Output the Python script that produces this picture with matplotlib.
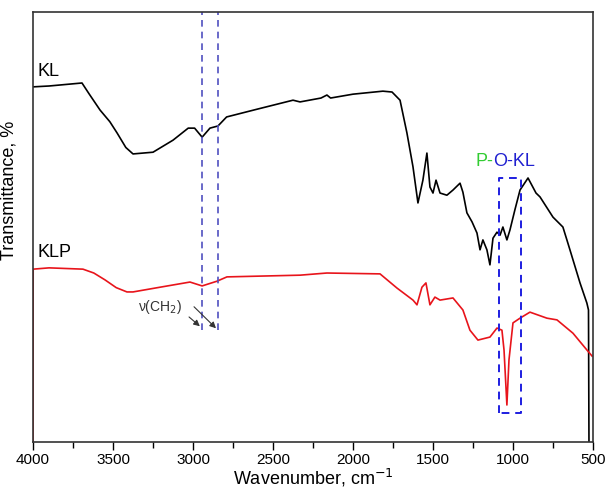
import matplotlib
matplotlib.use('Agg')
import matplotlib.pyplot as plt
from matplotlib.ticker import MultipleLocator

plt.rcParams['font.family'] = ['Liberation Sans', 'DejaVu Sans']

# KL spectrum (wavenumber, transmittance a.u.)
kl_wn = [4000, 3900, 3694, 3650, 3581, 3520, 3475, 3420, 3375, 3250, 3125, 3030, 2990, 2943, 2894,
         2844, 2790, 2600, 2375, 2331, 2200, 2163, 2140, 2000, 1813, 1756, 1706,
         1663, 1625, 1594, 1563, 1538, 1519, 1500, 1481, 1456, 1413, 1375, 1331,
         1313, 1288, 1256, 1225, 1206, 1188, 1163, 1144, 1125, 1100, 1081, 1063,
         1038, 1019, 988, 956, 906, 856, 831, 750, 688, 663, 644, 581, 538, 528, 525]
kl_t = [82.6, 82.8, 83.5, 81.0, 77.2, 74.5, 71.9, 68.5, 67.0, 67.4, 70.2, 73.0, 73.0, 70.9, 73.0,
        73.5, 75.6, 77.4, 79.5, 79.1, 80.0, 80.7, 80.0, 80.9, 81.6, 81.4, 79.5,
        71.9, 64.0, 55.6, 60.9, 67.2, 59.3, 57.9, 60.9, 57.9, 57.4, 58.6, 60.2,
        58.1, 53.3, 51.2, 48.6, 44.7, 47.0, 44.7, 41.2, 47.4, 48.8, 48.1, 50.0,
        47.0, 49.3, 54.0, 58.6, 61.4, 57.9, 57.0, 52.3, 50.0, 47.0, 44.7, 37.0, 32.3, 30.7, 0]

# KLP spectrum
klp_wn = [4000, 3999, 3900, 3688, 3620, 3550, 3480, 3413, 3375, 3206, 3019, 2943, 2850, 2788,
          2331, 2163, 1831, 1725, 1625, 1600, 1569, 1544, 1519, 1488, 1456, 1375,
          1313, 1269, 1219, 1144, 1100, 1069, 1056, 1038, 1025, 1000, 956, 894,
          788, 725, 625, 538, 506]
klp_t = [0, 40.2, 40.5, 40.2, 39.3, 37.7, 35.9, 34.9, 34.9, 36.0, 37.2, 36.3, 37.4, 38.4,
         38.8, 39.3, 39.1, 35.8, 33.0, 31.9, 36.0, 37.0, 31.9, 33.7, 33.0, 33.5,
         30.7, 26.0, 23.7, 24.4, 26.5, 26.0, 21.4, 8.6, 19.1, 27.7, 28.8, 30.2,
         28.8, 28.4, 25.3, 21.4, 20.0]

ch2_lines = [2943, 2844]
box_wn = [1088, 950]
box_t = [6.7, 61.4]

fig = plt.figure(figsize=(6.06, 4.88), dpi=100)
ax = fig.add_axes([0.0545, 0.0943, 0.924, 0.881])

ax.plot(kl_wn, kl_t, color='black', lw=1.2)
ax.plot(klp_wn, klp_t, color='#e8141b', lw=1.2)

for wn in ch2_lines:
    ax.plot([wn, wn], [26.0, 100], color='#5050c0', lw=1.2, ls=(0, (4, 3)))

bx = [box_wn[0], box_wn[0], box_wn[1], box_wn[1], box_wn[0]]
by = [box_t[0], box_t[1], box_t[1], box_t[0], box_t[0]]
ax.plot(bx, by, color='#1e1ee0', lw=1.4, ls=(0, (4, 3)))

ax.text(3975, 85.1, 'KL', fontsize=13, ha='left', va='baseline')
ax.text(3975, 43.0, 'KLP', fontsize=13, ha='left', va='baseline')
ax.text(1125, 64.2, 'P-', fontsize=13, color='#33cc33', ha='right', va='baseline')
ax.text(1125, 64.2, 'O-KL', fontsize=13, color='#2020d0', ha='left', va='baseline')

ax.text(3206, 31.4, 'ν(CH$_2$)', fontsize=10, color='#333333', ha='center', va='center')
ax.annotate('', xy=(2944, 26.5), xytext=(3038, 29.5),
            arrowprops=dict(arrowstyle='-|>', color='#333333', lw=0.8, mutation_scale=9))
ax.annotate('', xy=(2844, 26.0), xytext=(3006, 31.9),
            arrowprops=dict(arrowstyle='-|>', color='#333333', lw=0.8, mutation_scale=9))

ax.set_xlim(4000, 500)
ax.set_ylim(0, 100)
ax.xaxis.set_major_locator(MultipleLocator(500))
ax.xaxis.set_minor_locator(MultipleLocator(250))
ax.tick_params(axis='x', which='major', direction='out', length=6, width=1, labelsize=11, pad=2)
ax.tick_params(axis='x', which='minor', direction='out', length=4, width=1)
ax.set_yticks([])
for s in ax.spines.values():
    s.set_color('#333333')
    s.set_linewidth(1.2)

ax.set_xlabel('Wavenumber, cm$^{-1}$', fontsize=13, labelpad=0)
ax.set_ylabel('Transmittance, %', fontsize=13)
ax.yaxis.set_label_coords(-0.028, 0.586)

fig.savefig('out.png', dpi=100)
